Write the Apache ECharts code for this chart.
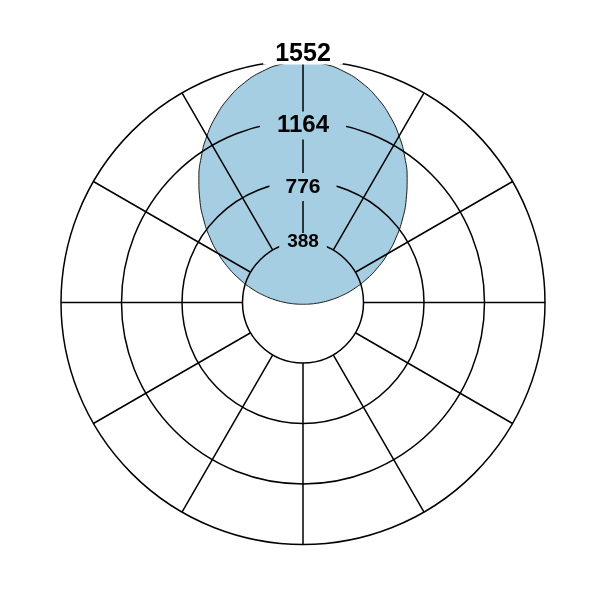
<!DOCTYPE html>
<html>
<head>
<meta charset="utf-8">
<script src="https://cdn.jsdelivr.net/npm/echarts@6/dist/echarts.min.js"></script>
<style>
html,body{margin:0;padding:0;background:#fff;}
#chart{width:601px;height:601px;}
</style>
</head>
<body>
<div id="chart"></div>
<script>
// Angle (degrees, clockwise from top) and radius value of the lobe outline
var angles = [0,5,10,15,20,25,30,35,40,45,50,55,60,65,70,75,80,85,90,95,100,105,110,115,120,125,130,135,140,145,150,155,160,165,170,175,180,
              185,190,195,200,205,210,215,220,225,230,235,240,245,250,255,260,265,270,275,280,285,290,295,300,305,310,315,320,325,330,335,340,345,350,355,360];
var radii  = [1544,1535,1505,1458,1395,1319,1233,1138,1039,936,833,730,628,528,430,338,251,174,115,76,53,40,32,26,22,20,18,16,15,14,13,13,12,12,12,12,12,
              12,12,12,12,13,13,14,15,16,18,20,22,26,32,40,53,76,115,174,251,338,430,528,628,730,833,936,1039,1138,1233,1319,1395,1458,1505,1535,1544];
// Radius axis ticks (the grid starts at the first tick, leaving a hole)
var tickValues = [388, 776, 1164, 1552];
var angleStep = 30;

var seriesData = radii.map(function (r, i) { return [r, angles[i]]; });

var chart = echarts.init(document.getElementById('chart'), null, {renderer: 'canvas'});
var FONT = "'Liberation Sans', Arial, Helvetica, sans-serif";
var BLUE = '#a6cee3';
var CENTER = [303, 302.5];
var R_OUT = 242;
var R_IN = R_OUT * tickValues[0] / tickValues[tickValues.length - 1];

var option = {
  backgroundColor: '#ffffff',
  animation: false,
  polar: [
    {center: CENTER, radius: [R_IN, R_OUT]},
    {center: CENTER, radius: [0, R_OUT]}
  ],
  angleAxis: [{
    polarIndex: 0,
    type: 'value',
    min: 0,
    max: 360,
    interval: angleStep,
    startAngle: 90,
    clockwise: true,
    z: 3,
    axisLine: {show: false},
    axisTick: {show: false},
    axisLabel: {show: false},
    splitLine: {show: true, lineStyle: {color: '#000', width: 1.5}}
  }, {
    polarIndex: 1,
    type: 'value',
    min: 0,
    max: 360,
    startAngle: 90,
    clockwise: true,
    show: false
  }],
  radiusAxis: [{
    polarIndex: 0,
    type: 'value',
    min: tickValues[0],
    max: tickValues[tickValues.length - 1],
    interval: tickValues[1] - tickValues[0],
    z: 4,
    axisLine: {show: false},
    axisTick: {show: false},
    splitLine: {show: true, lineStyle: {color: '#000', width: 1.5}},
    axisLabel: {
      show: true,
      margin: 0,
      align: 'center',
      verticalAlign: 'middle',
      fontFamily: FONT,
      formatter: function (v) {
        if (v === tickValues[0]) return '{t388|' + v + '}';
        if (v === tickValues[1]) return '{s11| }\n{t776|' + v + '}';
        if (v === tickValues[2]) return '{s9| }\n{t1164|' + v + '}';
        return '{t1552|' + v + '}\n{s12| }';
      },
      rich: {
        t388:  {fontFamily: FONT, fontSize: 19, fontWeight: 'bold', color: '#000', height: 18, padding: [0, 8, 0, 8], backgroundColor: BLUE},
        t776:  {fontFamily: FONT, fontSize: 21, fontWeight: 'bold', color: '#000', height: 28, padding: [0, 16, 0, 16], backgroundColor: BLUE},
        t1164: {fontFamily: FONT, fontSize: 24, fontWeight: 'bold', color: '#000', height: 28, padding: [0, 17, 0, 17], backgroundColor: BLUE},
        t1552: {fontFamily: FONT, fontSize: 25, fontWeight: 'bold', color: '#000', height: 20, padding: [0, 12, 0, 12], backgroundColor: '#fff'},
        s9:  {fontSize: 1, height: 9, lineHeight: 9},
        s11: {fontSize: 1, height: 11, lineHeight: 11},
        s12: {fontSize: 1, height: 12, lineHeight: 12}
      }
    }
  }, {
    polarIndex: 1,
    type: 'value',
    min: 0,
    max: tickValues[tickValues.length - 1],
    show: false
  }],
  series: [{
    type: 'line',
    coordinateSystem: 'polar',
    polarIndex: 1,
    data: seriesData,
    smooth: true,
    symbol: 'none',
    z: 2,
    lineStyle: {color: '#1a1a1a', width: 1},
    areaStyle: {color: BLUE, opacity: 1, origin: 'start'}
  }]
};
chart.setOption(option);
</script>
</body>
</html>
